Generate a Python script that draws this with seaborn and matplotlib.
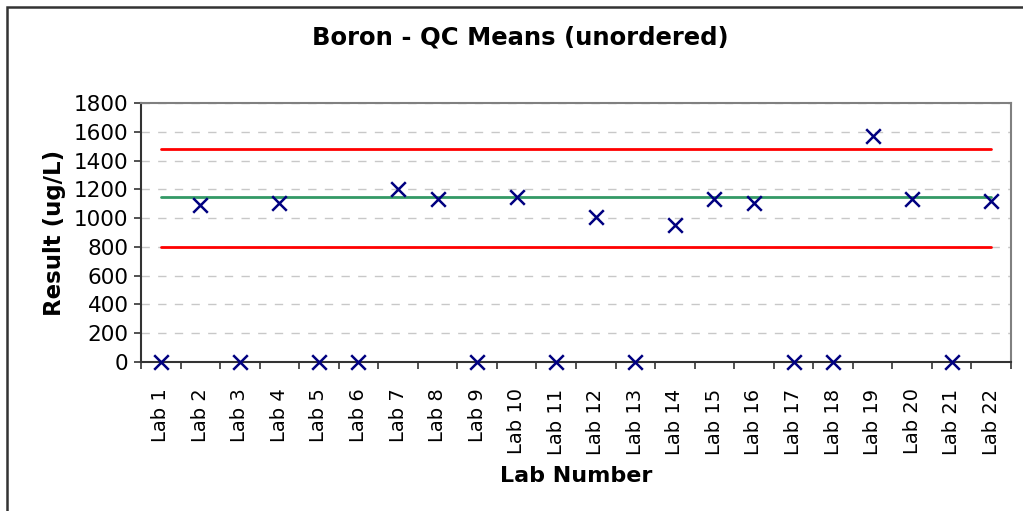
import numpy as np
import pandas as pd
import matplotlib
matplotlib.use('Agg')
import matplotlib.pyplot as plt
from matplotlib.patches import Rectangle
import seaborn as sns

labs = ['Lab %d' % i for i in range(1, 23)]
results = [0, 1092, 0, 1108, 0, 0, 1203, 1134, 0, 1150, 0,
           1006, 0, 953, 1134, 1108, 0, 0, 1568, 1134, 0, 1118]
mean_value = 1147
upper_limit = 1481
lower_limit = 801

df = pd.DataFrame({'lab': labs, 'pos': np.arange(len(labs)), 'result': results})
df['upper'] = upper_limit
df['mean'] = mean_value
df['lower'] = lower_limit

sns.set_style('white')
plt.rcParams['font.family'] = ['DejaVu Sans']
plt.rcParams['text.color'] = 'black'
plt.rcParams['axes.labelcolor'] = 'black'
plt.rcParams['xtick.color'] = 'black'
plt.rcParams['ytick.color'] = 'black'

fig = plt.figure(figsize=(10.23, 5.11), dpi=100)
ax = fig.add_axes([0.1378, 0.2916, 0.9883 - 0.1378, 0.7984 - 0.2916])

sns.lineplot(data=df, x='pos', y='upper', color='#FF0000', lw=2, ax=ax, zorder=3)
sns.lineplot(data=df, x='pos', y='lower', color='#FF0000', lw=2, ax=ax, zorder=3)
sns.lineplot(data=df, x='pos', y='mean', color='#339966', lw=2, ax=ax, zorder=3)
sns.scatterplot(data=df, x='pos', y='result', marker='x', s=110, color='#000080',
                linewidth=1.8, ax=ax, zorder=4, clip_on=False)

ax.set_xlim(-0.5, len(labs) - 0.5)
ax.set_ylim(0, 1800)
ax.set_yticks(range(0, 1801, 200))
ax.set_xticks(np.arange(len(labs)))
ax.set_xticklabels(labs, rotation=90, fontsize=14)
ax.set_xticks(np.arange(len(labs) + 1) - 0.5, minor=True)
ax.tick_params(axis='x', which='major', bottom=False, length=0, pad=19)
ax.tick_params(axis='x', which='minor', bottom=True, length=5, width=1.2,
               color='#333333', direction='out')
ax.tick_params(axis='y', left=True, length=5, width=1.2, color='#333333',
               direction='out', labelsize=15.5, pad=4)
ax.yaxis.grid(True, color='#C8C8C8', linestyle=(0, (6, 6)), lw=1)
ax.set_axisbelow(True)

for side in ['left', 'bottom']:
    ax.spines[side].set_color('#333333')
    ax.spines[side].set_linewidth(1.5)
for side in ['top', 'right']:
    ax.spines[side].set_color('#808080')
    ax.spines[side].set_linewidth(1.5)

ax.set_xlabel('Lab Number', fontsize=16, fontweight='bold', labelpad=8)
ax.set_ylabel('Result (ug/L)', fontsize=16.5, fontweight='bold', labelpad=6)
fig.text(0.5083, 1 - 38 / 511, 'Boron - QC Means (unordered)', ha='center', va='center',
         fontsize=17.5, fontweight='bold')

fig.patches.append(Rectangle((6.5 / 1023, -0.1), 1.2, 1 - 6.5 / 511 + 0.1,
                             transform=fig.transFigure, fill=False,
                             ec='#333333', lw=1.8))

fig.savefig('out.png', dpi=100)
